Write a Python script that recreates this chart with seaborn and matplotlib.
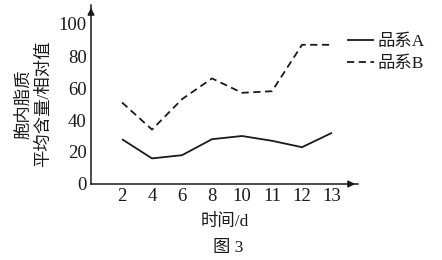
import matplotlib
matplotlib.use("Agg")
import matplotlib.pyplot as plt
import seaborn as sns
import pandas as pd

days = ["2", "4", "6", "8", "10", "11", "12", "13"]
strain_a = [28, 16, 18, 28, 30, 27, 23, 32]
strain_b = [51, 34, 53, 66, 57, 58, 87, 87]
series_names = ["品系A", "品系B"]
y_ticks = [0, 20, 40, 60, 80, 100]

sns.set_theme(style="white")
plt.rcParams['font.family'] = ['Liberation Serif', 'Noto Sans CJK SC']
plt.rcParams['axes.unicode_minus'] = False

pos = list(range(len(days)))
df = pd.DataFrame({
    "pos": pos * 2,
    "value": strain_a + strain_b,
    "series": [series_names[0]] * len(days) + [series_names[1]] * len(days),
})

fig = plt.figure(figsize=(4.42, 2.6), dpi=100)
ax = fig.add_axes([91/442, 1 - 184/260, (358-91)/442, (184-5)/260])
ink = "#1a1a1a"
sns.lineplot(data=df, x="pos", y="value", hue="series", style="series",
             palette=[ink, ink], dashes=[(1, 0), (4, 2.5)], linewidth=1.3,
             ax=ax, legend=True)

ax.set_xlim(-31/30, (358-122)/30)
ax.set_ylim(0, (184-5)/1.6)
ax.set_xticks(pos)
ax.set_xticklabels(days)
ax.set_yticks(y_ticks)
ax.tick_params(axis="both", direction="in", length=4, width=1, color=ink,
               labelsize=13.5, labelcolor=ink, pad=3)
for s in ["top", "right"]:
    ax.spines[s].set_visible(False)
for s in ["left", "bottom"]:
    ax.spines[s].set_color(ink)
    ax.spines[s].set_linewidth(1.1)
# arrows
ax.annotate("", xy=(1, 0), xycoords="axes fraction", xytext=(0.95, 0),
            arrowprops=dict(arrowstyle="-|>", color=ink, lw=1.1, mutation_scale=10))
ax.annotate("", xy=(0, 1), xycoords="axes fraction", xytext=(0, 0.95),
            arrowprops=dict(arrowstyle="-|>", color=ink, lw=1.1, mutation_scale=10))

ax.set_xlabel("时间/d", fontsize=12.5, color=ink, labelpad=6)
ax.set_ylabel("胞内脂质\n平均含量/相对值", fontsize=12.5, color=ink,
              linespacing=1.3)
ax.yaxis.set_label_coords((52 - 91) / 267, (184 - 104) / 179)

leg = ax.legend(loc="upper left", bbox_to_anchor=(347/442, 1 - 34/260),
                bbox_transform=fig.transFigure, frameon=False, fontsize=12.5,
                handlelength=1.55, handletextpad=0.2, labelspacing=0.35,
                borderpad=0, borderaxespad=0)
for t in leg.get_texts():
    t.set_color(ink)

fig.text(228/442, 1 - 248/260, "图 3", ha="center", va="center",
         fontsize=12.5, color=ink)

fig.savefig("out.png", dpi=100, facecolor="white")
